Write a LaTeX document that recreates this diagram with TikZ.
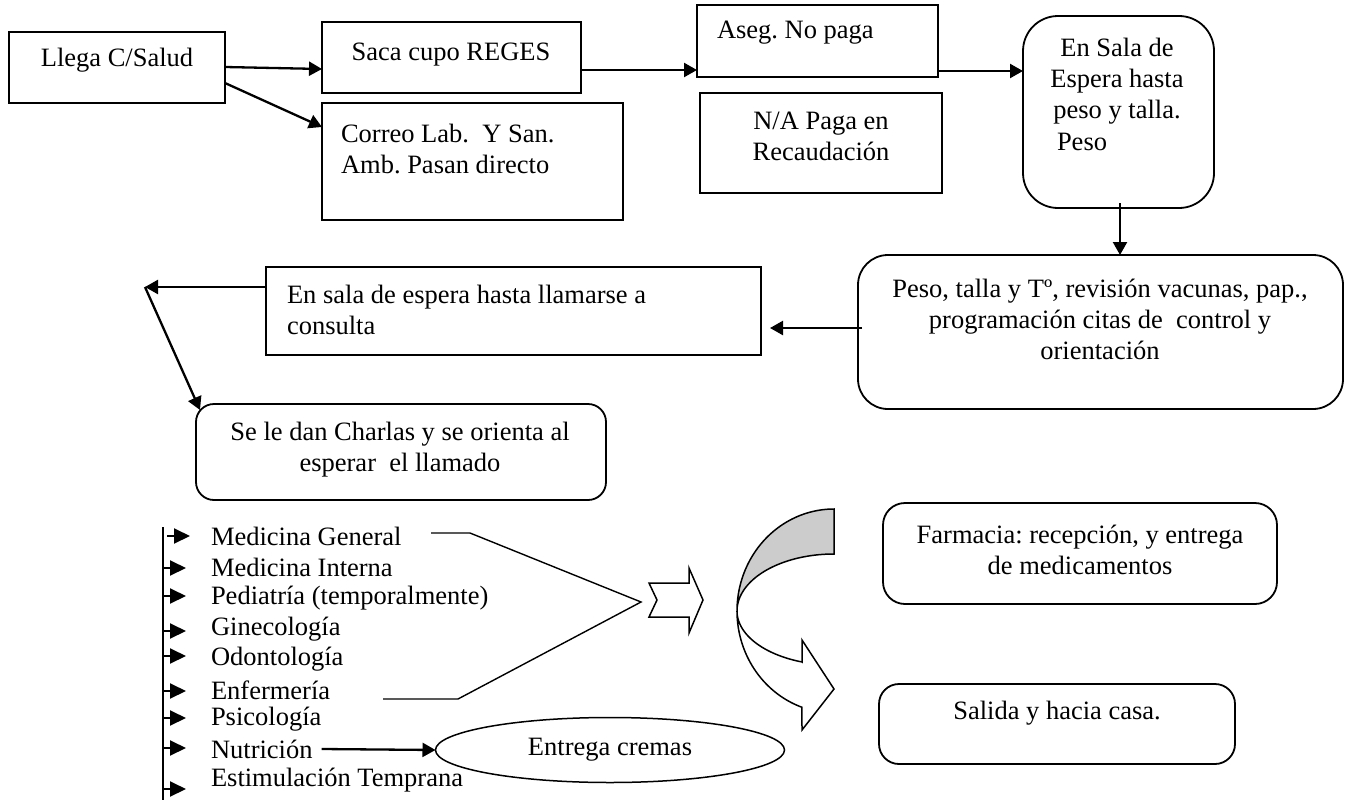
\documentclass[tikz,border=0pt]{standalone}
\usepackage{fontspec}
\setmainfont{Liberation Serif}
\usetikzlibrary{arrows.meta,shapes.geometric}
\frenchspacing
\tikzset{
  box/.style={draw, line width=1.8pt, inner sep=0pt, outer sep=0pt},
  rbox/.style={box, rounded corners=#1},
  txt/.style={inner sep=0pt, outer sep=0pt, font=\fontsize{26.5}{31}\selectfont\frenchspacing},
  arr/.style={line width=2.3pt, -{Triangle[length=13pt,width=14pt]}},
  larr/.style={line width=2pt, -{Triangle[length=16pt,width=15pt]}},
  thinline/.style={line width=1.5pt, line join=miter},
}
\begin{document}
\begin{tikzpicture}[x=1pt, y=-1pt]
\useasboundingbox (0,0) rectangle (1349,800);

% ---- boxes ----
\node[box, minimum width=216pt, minimum height=71pt] (llega) at (117,67.5) {};
\node[box, minimum width=259pt, minimum height=71pt] (saca) at (451.5,57.5) {};
\node[box, minimum width=301pt, minimum height=117pt] (correo) at (472.5,161.5) {};
\node[box, minimum width=241pt, minimum height=72pt] (aseg) at (817.5,41) {};
\node[box, minimum width=242pt, minimum height=100pt] (na) at (821,143) {};
\node[rbox=35pt, minimum width=191pt, minimum height=192pt] (sala) at (1118.5,112) {};
\node[rbox=30pt, minimum width=485pt, minimum height=154pt] (peso) at (1100.5,332) {};
\node[box, minimum width=495pt, minimum height=88pt] (espera) at (513.5,311) {};
\node[rbox=18pt, minimum width=410pt, minimum height=96pt] (charlas) at (401,452) {};
\node[rbox=22pt, minimum width=394pt, minimum height=101pt] (farm) at (1080,553.5) {};
\node[rbox=20pt, minimum width=356pt, minimum height=80pt] (salida) at (1057,724) {};

% ---- texts ----
\node[txt] (tllega) at (117,60) {Llega C/Salud};
\node[txt] (tsaca) at (451,55) {Saca cupo REGES};
\node[txt, anchor=west, align=left] (tcorreo) at (341,149) {Correo Lab.\ \ Y San.\\Amb. Pasan directo};
\node[txt, anchor=west] (taseg) at (717,33) {Aseg. No paga};
\node[txt, align=center] (tna) at (821,136) {N/A Paga en\\Recaudación};
\node[txt, align=center] (tsala) at (1117,81) {En Sala de\\Espera hasta\\peso y talla.};
\node[txt, anchor=west] (tsala2) at (1057,142) {Peso};
\node[txt, align=center] (tpeso) at (1100,319) {Peso, talla y Tº, revisión vacunas, pap.,\\programación citas de\ \ control y\\orientación};
\node[txt, anchor=west, align=left] (tespera) at (287,310) {En sala de espera hasta llamarse a\\consulta};
\node[txt, align=center] (tcharlas) at (400,450) {Se le dan Charlas y se orienta al\\esperar\ \ el llamado};
\node[txt, align=center] (tfarm) at (1080,550) {Farmacia: recepción, y entrega\\de medicamentos};
\node[txt] (tsalida) at (1057,713) {Salida y hacia casa.};

% ---- list ----
\node[txt, anchor=west] (l1) at (211,536) {Medicina General};
\node[txt, anchor=west] (l2) at (211,567) {Medicina Interna};
\node[txt, anchor=west] (l3) at (211,598) {Pediatría (temporalmente)};
\node[txt, anchor=west] (l4) at (211,629) {Ginecología};
\node[txt, anchor=west] (l5) at (211,659) {Odontología};
\node[txt, anchor=west] (l6) at (211,690) {Enfermería};
\node[txt, anchor=west] (l7) at (211,719) {Psicología};
\node[txt, anchor=west] (l8) at (211,749) {Nutrición};
\node[txt, anchor=west] (l9) at (211,780) {Estimulación Temprana};

\node[ellipse, draw, line width=1.5pt, inner sep=0pt, minimum width=349pt, minimum height=65pt, txt] (cremas) at (610,750) {Entrega cremas};

% ---- connectors (top) ----
\draw[arr] ([yshift=0.5pt]llega.east) -- ([yshift=-11.5pt]saca.west);
\draw[arr] ([yshift=-15.5pt]llega.east) -- ([yshift=34.5pt]correo.west);
\draw[arr] ([yshift=-12.5pt]saca.east) -- ([yshift=-29pt]aseg.west);
\draw[arr] ([yshift=-30pt]aseg.east) -- ([yshift=41pt]sala.west);
\draw[arr] ([xshift=1.5pt,yshift=5pt]sala.south) -- ([xshift=19.5pt]peso.north);
\draw[arr] ([xshift=4pt,yshift=4pt]peso.west) -- ([xshift=9pt,yshift=-17pt]espera.east);
\coordinate (bend) at (145,287);
\draw[arr] ([yshift=24pt]espera.west) -- (bend);
\draw[arr] (bend) -- ([xshift=4pt,yshift=-6pt]charlas.north west);

% ---- list bar and arrows ----
\coordinate (bartop) at (163,527);
\coordinate (barbot) at (163,800);
\draw[line width=2pt] (bartop) -- (barbot);
\coordinate (s0) at (167,536);
\coordinate (e0) at (190,536);
\draw[larr] (s0) -- (e0);
\foreach \i/\y in {1/568,2/596,3/631,4/656,5/691,6/718,7/748,8/789}{
  \coordinate (s\i) at (bartop |- 0,\y);
  \coordinate (e\i) at (186,\y);
  \draw[larr] (s\i) -- (e\i);
}
\draw[arr] ([xshift=9pt]l8.east) -- (cremas.west);

% ---- bracket lines ----
\coordinate (v1) at (431,533);
\coordinate (v2) at (470,533);
\coordinate (vapex) at (641,602);
\coordinate (v3) at (458,699);
\coordinate (v4) at (383,699);
\draw[line width=1.4pt] (v1) -- (v2) -- (vapex) -- (v3) -- (v4);

% ---- notched arrow ----
\draw[thinline, fill=white] (649,583) -- (657,600) -- (649,617) -- (689,617) -- (689,633) -- (703,600) -- (689,568) -- (689,583) -- cycle;

% ---- curved arrow ----
\filldraw[thinline, fill=gray!40] plot[domain=90:180, samples=50, variable=\t] ({834+97*cos(\t)},{611-102*sin(\t)})
  -- plot[domain=180:90, samples=50, variable=\t] ({834+97*cos(\t)},{611-57*sin(\t)}) -- cycle;
\filldraw[thinline, fill=white] plot[domain=180:250.7, samples=40, variable=\t] ({834+97*cos(\t)},{611-102*sin(\t)})
  -- (802,730) -- (834,689) -- (802,640) -- (802,662)
  -- plot[domain=250.7:180, samples=40, variable=\t] ({834+97*cos(\t)},{611-54*sin(\t)}) -- cycle;
\end{tikzpicture}
\end{document}
